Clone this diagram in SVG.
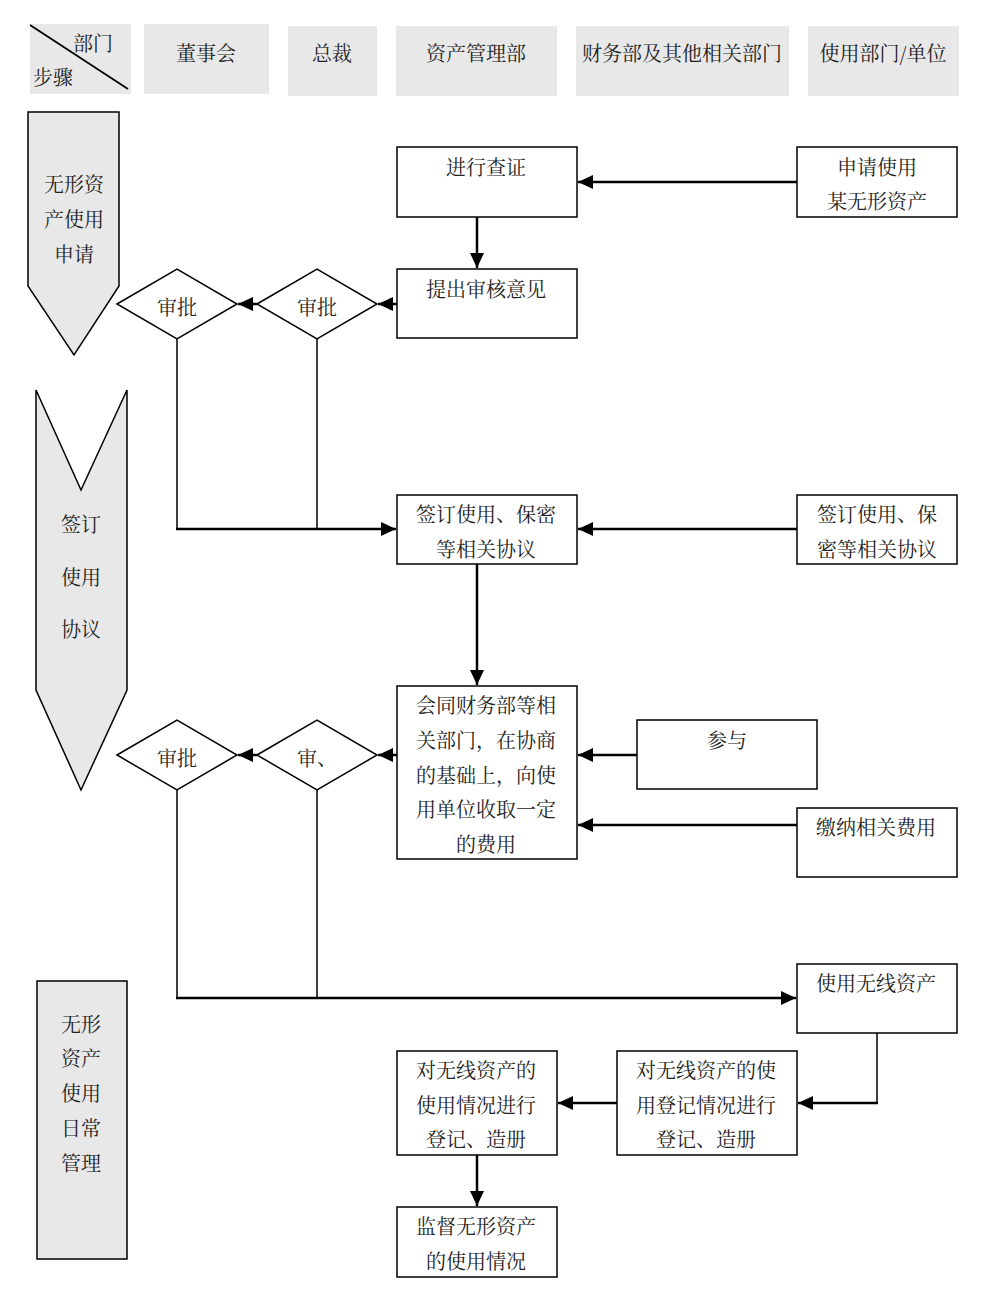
<svg xmlns="http://www.w3.org/2000/svg" width="990" height="1300" viewBox="0 0 990 1300">
<style>
text{font-family:"Noto Serif CJK SC","Liberation Serif","Noto Sans CJK SC",serif;font-size:20px;fill:#222;text-anchor:middle}
.hdr{fill:#e8e8e8;stroke:none}
.lane{fill:#e8e8e8;stroke:#000;stroke-width:1.5}
.box{fill:#fff;stroke:#000;stroke-width:1.5}
.c{fill:none;stroke:#000;stroke-width:2.5}
.t{fill:none;stroke:#000;stroke-width:1.5}
</style>
<defs>
<marker id="ah" markerUnits="userSpaceOnUse" markerWidth="16" markerHeight="14" refX="15" refY="7" orient="auto">
<path d="M0,0 L15,7 L0,14 Z" fill="#000"/>
</marker>
</defs>
<rect width="990" height="1300" fill="#fff"/>
<g id="header">
<g id="h0"><rect class="hdr" x="30" y="24" width="101" height="70"/><line x1="30" y1="25" x2="128" y2="89" stroke="#000" stroke-width="1.8"/><text x="93" y="51">部门</text><text x="53" y="85">步骤</text></g>
<g id="h1"><rect class="hdr" x="144" y="24" width="125" height="70"/><text x="206" y="61">董事会</text></g>
<g id="h2"><rect class="hdr" x="288" y="26" width="89" height="70"/><text x="332" y="61">总裁</text></g>
<g id="h3"><rect class="hdr" x="396" y="26" width="161" height="70"/><text x="476" y="61">资产管理部</text></g>
<g id="h4"><rect class="hdr" x="576" y="26" width="213" height="70"/><text x="682" y="61">财务部及其他相关部门</text></g>
<g id="h5"><rect class="hdr" x="808" y="26" width="151" height="70"/><text x="883" y="61">使用部门/单位</text></g>
</g>
<g id="lanes">
<g id="s1"><path class="lane" d="M28,112 L119,112 L119,286 L74,355 L28,286 Z"/><text x="74" y="192">无形资</text><text x="74" y="227">产使用</text><text x="74" y="262">申请</text></g>
<g id="s2"><path class="lane" d="M36,390 L81,490 L127,390 L127,690 L81,790 L36,690 Z"/><text x="81" y="532">签订</text><text x="81" y="585">使用</text><text x="81" y="637">协议</text></g>
<g id="s3"><rect class="lane" x="37" y="981" width="90" height="278"/><text x="81" y="1032">无形</text><text x="81" y="1066">资产</text><text x="81" y="1101">使用</text><text x="81" y="1136">日常</text><text x="81" y="1171">管理</text></g>
</g>
<g id="connectors">
<line class="c" x1="797" y1="182" x2="578" y2="182" marker-end="url(#ah)"/>
<line class="c" x1="477" y1="217" x2="477" y2="268" marker-end="url(#ah)"/>
<line class="c" x1="397" y1="304" x2="378" y2="304" marker-end="url(#ah)"/>
<line class="c" x1="257" y1="304" x2="238" y2="304" marker-end="url(#ah)"/>
<polyline class="t" points="177,339 177,529"/>
<polyline class="t" points="317,339 317,529"/>
<line class="c" x1="176" y1="529" x2="396" y2="529" marker-end="url(#ah)"/>
<line class="c" x1="797" y1="529" x2="578" y2="529" marker-end="url(#ah)"/>
<line class="c" x1="477" y1="564" x2="477" y2="685" marker-end="url(#ah)"/>
<line class="c" x1="637" y1="755" x2="578" y2="755" marker-end="url(#ah)"/>
<line class="c" x1="797" y1="825" x2="578" y2="825" marker-end="url(#ah)"/>
<line class="c" x1="397" y1="755" x2="378" y2="755" marker-end="url(#ah)"/>
<line class="c" x1="257" y1="755" x2="238" y2="755" marker-end="url(#ah)"/>
<polyline class="t" points="177,790 177,998"/>
<polyline class="t" points="317,790 317,998"/>
<line class="c" x1="176" y1="998" x2="796" y2="998" marker-end="url(#ah)"/>
<polyline class="t" points="877,1033 877,1103"/>
<line class="c" x1="878" y1="1103" x2="798" y2="1103" marker-end="url(#ah)"/>
<line class="c" x1="617" y1="1103" x2="558" y2="1103" marker-end="url(#ah)"/>
<line class="c" x1="477" y1="1155" x2="477" y2="1206" marker-end="url(#ah)"/>
</g>
<g id="n1"><rect class="box" x="397" y="147" width="180" height="70"/><text x="486" y="175">进行查证</text></g>
<g id="n2"><rect class="box" x="797" y="147" width="160" height="70"/><text x="877" y="175">申请使用</text><text x="877" y="209">某无形资产</text></g>
<g id="n3"><rect class="box" x="397" y="269" width="180" height="69"/><text x="486" y="297">提出审核意见</text></g>
<g id="d1"><polygon class="box" points="117,304 177,269 237,304 177,339"/><text x="177" y="315">审批</text></g>
<g id="d2"><polygon class="box" points="257,304 317,269 377,304 317,339"/><text x="317" y="315">审批</text></g>
<g id="n4"><rect class="box" x="397" y="495" width="180" height="69"/><text x="486" y="522">签订使用、保密</text><text x="486" y="557">等相关协议</text></g>
<g id="n5"><rect class="box" x="797" y="495" width="160" height="69"/><text x="877" y="522">签订使用、保</text><text x="877" y="557">密等相关协议</text></g>
<g id="n6"><rect class="box" x="397" y="686" width="180" height="173"/><text x="486" y="713">会同财务部等相</text><text x="486" y="748">关部门，在协商</text><text x="486" y="783">的基础上，向使</text><text x="486" y="817">用单位收取一定</text><text x="486" y="852">的费用</text></g>
<g id="n7"><rect class="box" x="637" y="720" width="180" height="69"/><text x="727" y="748">参与</text></g>
<g id="n8"><rect class="box" x="797" y="808" width="160" height="69"/><text x="876" y="835">缴纳相关费用</text></g>
<g id="d3"><polygon class="box" points="117,755 177,720 237,755 177,790"/><text x="177" y="766">审批</text></g>
<g id="d4"><polygon class="box" points="257,755 317,720 377,755 317,790"/><text x="317" y="766">审、</text></g>
<g id="n9"><rect class="box" x="797" y="964" width="160" height="69"/><text x="876" y="991">使用无线资产</text></g>
<g id="n10"><rect class="box" x="617" y="1051" width="180" height="104"/><text x="706" y="1078">对无线资产的使</text><text x="706" y="1113">用登记情况进行</text><text x="706" y="1147">登记、造册</text></g>
<g id="n11"><rect class="box" x="397" y="1051" width="160" height="104"/><text x="476" y="1078">对无线资产的</text><text x="476" y="1113">使用情况进行</text><text x="476" y="1147">登记、造册</text></g>
<g id="n12"><rect class="box" x="397" y="1207" width="160" height="70"/><text x="476" y="1234">监督无形资产</text><text x="476" y="1269">的使用情况</text></g>
</svg>
